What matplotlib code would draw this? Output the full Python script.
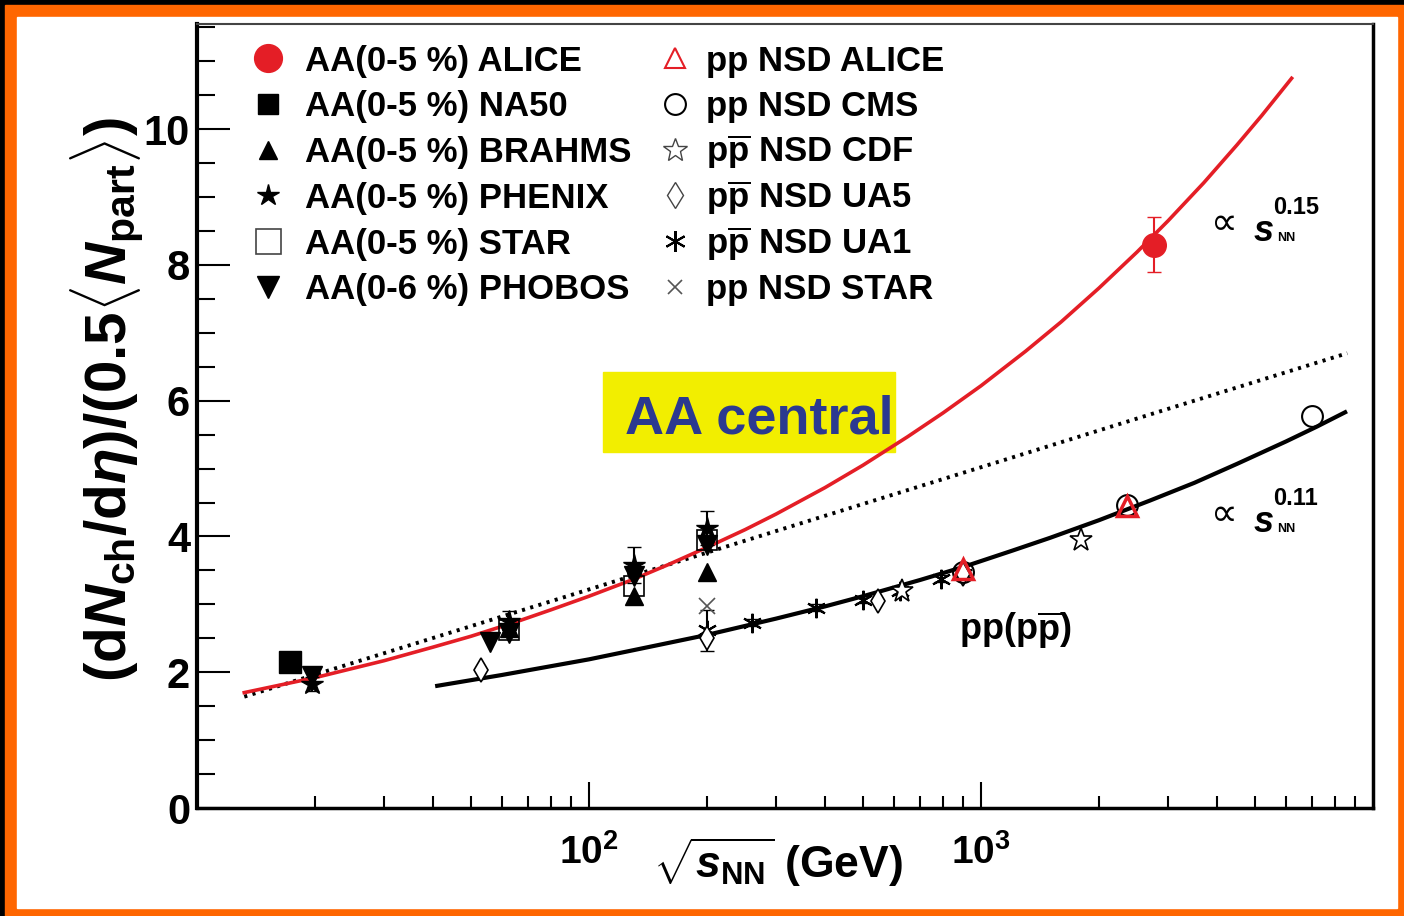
import matplotlib
matplotlib.use("Agg")
import matplotlib.pyplot as plt
from matplotlib.patches import Rectangle
from matplotlib.ticker import MultipleLocator, NullFormatter

plt.rcParams.update({
    "font.family": ["Liberation Sans", "DejaVu Sans"],
    "font.weight": "bold",
    "mathtext.fontset": "custom",
    "mathtext.rm": "Liberation Sans:bold",
    "mathtext.it": "Liberation Sans:bold:italic",
    "mathtext.bf": "Liberation Sans:bold",
})

RED = "#E41E26"

# ── AA central collisions, sqrt(s_NN) in GeV ────────────────────────────────
alice_aa_x = [2760]
alice_aa_y = [8.3]
alice_aa_err = [0.4]
na50_x = [17.3]
na50_y = [2.15]
brahms_x = [62.4, 130, 200]
brahms_y = [2.65, 3.12, 3.48]
phenix_x = [19.6, 62.4, 130, 200]
phenix_y = [1.83, 2.75, 3.58, 4.12]
phenix_err = [0.1, 0.15, 0.27, 0.25]
star_aa_x = [62.4, 130, 200]
star_aa_y = [2.62, 3.27, 3.95]
phobos_x = [19.6, 56, 62.4, 130, 200]
phobos_y = [1.95, 2.45, 2.58, 3.42, 3.88]

# ── pp / ppbar NSD ───────────────────────────────────────────────────────────
alice_pp_x = [900, 2360]
alice_pp_y = [3.52, 4.45]
cms_x = [900, 2360, 7000]
cms_y = [3.48, 4.47, 5.78]
cdf_x = [630, 1800]
cdf_y = [3.2, 3.95]
ua5_x = [53, 200, 546, 900]
ua5_y = [2.03, 2.5, 3.05, 3.45]
ua1_x = [200, 260, 380, 500, 620, 790, 900]
ua1_y = [2.62, 2.73, 2.95, 3.07, 3.2, 3.38, 3.45]
ua1_err = [0.3, 0.05, 0.05, 0.05, 0.05, 0.05, 0.05]
star_pp_x = [200]
star_pp_y = [2.98]

# ── curves ───────────────────────────────────────────────────────────────────
aa_fit_x = [13.2, 20, 30, 40, 50, 65, 80, 100, 130, 160, 200, 250, 300, 400, 500,
            650, 800, 1000, 1300, 1600, 2000, 2500, 3000, 3700, 4500, 5200, 6200]
aa_fit_y = [1.70, 1.92, 2.17, 2.37, 2.53, 2.74, 2.92, 3.12, 3.37, 3.59, 3.84, 4.10,
            4.33, 4.72, 5.05, 5.47, 5.82, 6.22, 6.73, 7.16, 7.66, 8.19, 8.65, 9.21,
            9.77, 10.20, 10.75]
pp_fit_x = [41, 60, 100, 150, 200, 300, 400, 500, 700, 900, 1200, 1500, 2000, 2700,
            3500, 4500, 6000, 7200, 8490]
pp_fit_y = [1.80, 1.96, 2.19, 2.40, 2.55, 2.79, 2.97, 3.12, 3.36, 3.55, 3.79, 3.98,
            4.24, 4.53, 4.79, 5.07, 5.40, 5.62, 5.83]
log_fit_x = [13.2, 30, 100, 300, 1000, 3000, 8600]
log_fit_y = [1.64, 2.28, 3.22, 4.08, 5.02, 5.88, 6.70]

# legend entries
labels_aa = ["AA(0-5 %) ALICE", "AA(0-5 %) NA50", "AA(0-5 %) BRAHMS",
             "AA(0-5 %) PHENIX", "AA(0-5 %) STAR", "AA(0-6 %) PHOBOS"]
labels_pp = ["pp NSD ALICE", "pp NSD CMS", r"p$\overline{\mathrm{p}}$ NSD CDF",
             r"p$\overline{\mathrm{p}}$ NSD UA5", r"p$\overline{\mathrm{p}}$ NSD UA1",
             "pp NSD STAR"]

fig = plt.figure(figsize=(14.04, 9.16), dpi=100, facecolor="black")
fig.patches.append(Rectangle((5 / 1404, 0), 1, 911 / 916, transform=fig.transFigure,
                             color="#FF6600", zorder=-10))
fig.patches.append(Rectangle((17 / 1404, 8 / 916), 1380 / 1404, 891 / 916,
                             transform=fig.transFigure, color="white", zorder=-9))
ax = fig.add_axes([197 / 1404, 108 / 916, 1176 / 1404, 784 / 916])

# yellow label box
ax.add_patch(Rectangle((108.6, 5.24), 604 - 108.6, 1.19, color="#F2EE00", zorder=1))
ax.text(123.6, 5.72, "AA central", color="#2B3990", fontsize=39, va="center",
        ha="left", zorder=6)

# curves
ax.plot(log_fit_x, log_fit_y, color="black", lw=2.8, ls=(0, (0.8, 1.4)), zorder=2)
ax.plot(aa_fit_x, aa_fit_y, color=RED, lw=2.6, zorder=3)
ax.plot(pp_fit_x, pp_fit_y, color="black", lw=3.0, zorder=3)

# AA points
ax.plot(na50_x, na50_y, "s", color="black", ms=16, zorder=5)
ax.plot(brahms_x, brahms_y, "^", color="black", ms=13, zorder=5)
ax.errorbar(phenix_x, phenix_y, yerr=phenix_err, fmt="*", color="black", ms=16,
            capsize=5, elinewidth=1.5, zorder=5)
ax.plot(star_aa_x, star_aa_y, "s", mfc="none", mec="black", ms=14, mew=1.2, zorder=5)
ax.plot(phobos_x, phobos_y, "v", color="black", ms=14, zorder=5)
ax.errorbar(alice_aa_x, alice_aa_y, yerr=alice_aa_err, fmt="o", color=RED, ms=17,
            capsize=5, elinewidth=1.5, zorder=6)

# pp points
ax.errorbar(ua1_x, ua1_y, yerr=ua1_err, fmt="none", ecolor="black", capsize=5,
            elinewidth=1.5, zorder=5)
ax.plot(ua1_x, ua1_y, ls="none", marker=(6, 2, 0), color="black", ms=14, mew=1.5, zorder=5)
ax.plot(ua5_x, ua5_y, "d", mfc="white", mec="black", ms=12, mew=1.2, zorder=5)
ax.plot(cdf_x, cdf_y, "*", mfc="white", mec="black", ms=17, mew=1.2, zorder=5)
ax.plot(star_pp_x, star_pp_y, "x", color="#555555", ms=12, mew=1.2, zorder=5)
ax.plot(cms_x, cms_y, "o", mfc="none", mec="black", ms=15, mew=1.5, zorder=5)
ax.plot(alice_pp_x, alice_pp_y, "^", mfc="none", mec=RED, ms=15, mew=2.5, zorder=6)

# annotations
for base, sup, txt in [(8.35, 8.75, "0.15"), (4.07, 4.47, "0.11")]:
    ax.text(3850, base + 0.1, "\u221d", fontsize=27, family=["DejaVu Sans"],
            weight="normal", va="baseline")
    ax.text(4940, base, "$s$", fontsize=26, va="baseline")
    ax.text(5560, sup, txt, fontsize=17, va="baseline")
    ax.text(5690, base, "NN", fontsize=9, va="baseline")
ax.text(1222, 2.62, r"pp(p$\overline{\mathrm{p}}$)", fontsize=26, ha="center", va="center")

# legend, two hand-placed columns (fixed row pitch)
styles_aa = [
    dict(marker="o", color=RED, ms=20),
    dict(marker="s", color="black", ms=15),
    dict(marker="^", color="black", ms=13),
    dict(marker="*", color="black", ms=16),
    dict(marker="s", mfc="none", mec="#444444", ms=18, mew=1.2),
    dict(marker="v", color="black", ms=16),
]
styles_pp = [
    dict(marker="^", mfc="none", mec=RED, ms=15, mew=1.5),
    dict(marker="o", mfc="none", mec="black", ms=15, mew=1.5),
    dict(marker="*", mfc="none", mec="#444444", ms=18, mew=1.0),
    dict(marker="d", mfc="none", mec="#444444", ms=13, mew=1.0),
    dict(marker=(6, 2, 0), color="black", ms=15, mew=1.5),
    dict(marker="x", color="#555555", ms=10, mew=1.2),
]
tr = ax.transAxes
for col_labels, col_styles, mx, tx in [(labels_aa, styles_aa, 268, 305),
                                       (labels_pp, styles_pp, 675, 706)]:
    for i, (lab, st) in enumerate(zip(col_labels, col_styles)):
        row = 58 + 45.8 * i
        ax.plot([(mx - 197) / 1176], [(808 - row) / 784], ls="none", transform=tr,
                clip_on=False, zorder=7, **st)
        ax.text((tx - 197) / 1176, (808 - row - 12.5) / 784, lab, fontsize=25,
                transform=tr, ha="left", va="baseline", zorder=7)

# axes
ax.set_xscale("log")
ax.set_xlim(10, 10000)
ax.set_ylim(0, 11.55)
ax.set_xticks([100, 1000])
ax.set_xticklabels([r"$10^2$", r"$10^3$"])
ax.xaxis.set_minor_formatter(NullFormatter())
ax.yaxis.set_major_locator(MultipleLocator(2))
ax.yaxis.set_minor_locator(MultipleLocator(0.5))
ax.tick_params(axis="both", which="both", direction="in", top=False, right=False)
ax.tick_params(axis="y", which="major", length=24, width=1.5, labelsize=30, pad=5)
ax.tick_params(axis="y", which="minor", length=13, width=1.5)
ax.tick_params(axis="x", which="major", length=19, width=1.5, labelsize=28, pad=19)
ax.tick_params(axis="x", which="minor", length=9, width=1.5)
ax.spines["left"].set_linewidth(3)
ax.spines["bottom"].set_linewidth(2.5)
ax.spines["right"].set_linewidth(2.5)
ax.spines["top"].set_linewidth(1.5)
ax.spines["top"].set_color("#444444")

fig.text(107 / 1404, 1 - 400 / 916,
         r"$(\mathrm{d}N_{\mathrm{ch}}/\mathrm{d}\eta)/(0.5\langle N_{\mathrm{part}}\rangle)$",
         rotation=90, fontsize=42, ha="center", va="center")
fig.text(778 / 1404, 1 - 862 / 916, r"$\sqrt{s_{\mathrm{NN}}}$ (GeV)", fontsize=32,
         ha="center", va="center")

fig.savefig("out.png", dpi=100, facecolor=fig.get_facecolor())
